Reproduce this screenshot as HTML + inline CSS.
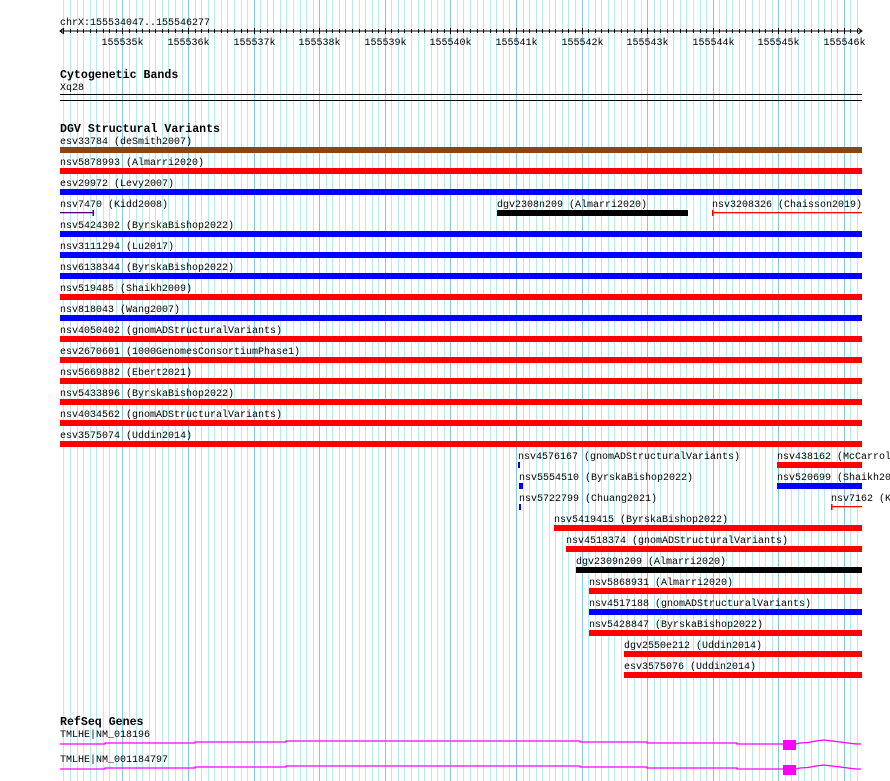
<!DOCTYPE html>
<html><head><meta charset="utf-8"><style>
html,body{margin:0;padding:0;background:#fff;width:890px;height:781px;overflow:hidden}
svg text{font-family:"Liberation Mono",monospace;font-size:10px;fill:#000}
svg text.b{font-weight:bold;font-size:11.6px}
</style></head><body>
<svg id="s" width="890" height="781" xmlns="http://www.w3.org/2000/svg">
<g id="grid"></g>
<text x="60" y="25">chrX:155534047..155546277</text>
<line x1="60" y1="31" x2="862" y2="31" stroke="#000"/>
<path d="M64,28 L60,31 L64,34 M858,28 L862,31 L858,34" stroke="#000" fill="none"/>
<g id="ticks"></g>
<text class="b" x="60" y="78">Cytogenetic Bands</text>
<text x="60" y="90">Xq28</text>
<line x1="60" y1="94.5" x2="862" y2="94.5" stroke="#000"/>
<line x1="60" y1="100.5" x2="862" y2="100.5" stroke="#000"/>
<text class="b" x="60" y="132">DGV Structural Variants</text>
<g id="sv"></g>
<text class="b" x="60" y="725">RefSeq Genes</text>
<text x="60" y="737">TMLHE|NM_018196</text>
<text x="60" y="762">TMLHE|NM_001184797</text>
<g id="genes" fill="none" stroke="#ff00ff" stroke-width="1.3"></g>
</svg>
<script>
const NS="http://www.w3.org/2000/svg";
function el(p,t,a,txt){const e=document.createElementNS(NS,t);for(const k in a)e.setAttribute(k,a[k]);if(txt)e.textContent=txt;document.getElementById(p).appendChild(e);return e;}
const x0=60,sc=802/12230,s0=155534047;
function X(bp){return x0+(bp-s0)*sc;}
for(let bp=155534100;bp<=155546200;bp+=100){
  const x=Math.round(X(bp))+0.5, maj=bp%1000==0;
  el("grid","line",{x1:x,y1:0,x2:x,y2:781,stroke:maj?"#80c8e8":"#b4ecf0","stroke-width":1});
  el("ticks","line",{x1:x,y1:maj?28:29,x2:x,y2:maj?34:33,stroke:"#000"});
  if(maj) el("ticks","text",{x:x,y:45,"text-anchor":"middle"},(bp/1000)+"k");
}
const R="#ff0000",B="#0000ff",K="#000",BR="#8b4513";
const rows=[
 [[60,862,BR,"esv33784 (deSmith2007)"]],
 [[60,862,R,"nsv5878993 (Almarri2020)"]],
 [[60,862,B,"esv29972 (Levy2007)"]],
 [[60,94,"#4b0082","nsv7470 (Kidd2008)","thin"],[497,688,K,"dgv2308n209 (Almarri2020)"],[712,862,R,"nsv3208326 (Chaisson2019)","thinL"]],
 [[60,862,B,"nsv5424302 (ByrskaBishop2022)"]],
 [[60,862,B,"nsv3111294 (Lu2017)"]],
 [[60,862,B,"nsv6138344 (ByrskaBishop2022)"]],
 [[60,862,R,"nsv519485 (Shaikh2009)"]],
 [[60,862,B,"nsv818043 (Wang2007)"]],
 [[60,862,R,"nsv4050402 (gnomADStructuralVariants)"]],
 [[60,862,R,"esv2670601 (1000GenomesConsortiumPhase1)"]],
 [[60,862,R,"nsv5669882 (Ebert2021)"]],
 [[60,862,R,"nsv5433896 (ByrskaBishop2022)"]],
 [[60,862,R,"nsv4034562 (gnomADStructuralVariants)"]],
 [[60,862,R,"esv3575074 (Uddin2014)"]],
 [[518,520,B,"nsv4576167 (gnomADStructuralVariants)"],[777,862,R,"nsv438162 (McCarrol"]],
 [[519,523,B,"nsv5554510 (ByrskaBishop2022)"],[777,862,B,"nsv520699 (Shaikh20"]],
 [[519,521,B,"nsv5722799 (Chuang2021)"],[831,862,R,"nsv7162 (K","thinL"]],
 [[554,862,R,"nsv5419415 (ByrskaBishop2022)"]],
 [[566,862,R,"nsv4518374 (gnomADStructuralVariants)"]],
 [[576,862,K,"dgv2309n209 (Almarri2020)"]],
 [[589,862,R,"nsv5868931 (Almarri2020)"]],
 [[589,862,B,"nsv4517188 (gnomADStructuralVariants)"]],
 [[589,862,R,"nsv5428847 (ByrskaBishop2022)"]],
 [[624,862,R,"dgv2550e212 (Uddin2014)"]],
 [[624,862,R,"esv3575076 (Uddin2014)"]],
];
rows.forEach((r,i)=>{
  const ly=144+21*i, by=147+21*i;
  r.forEach(([a,b,c,t,m])=>{
    el("sv","text",{x:a,y:ly},t);
    if(m=="thin"){el("sv","rect",{x:a,y:by+2,width:b-a,height:1.3,fill:c});el("sv","rect",{x:b-1.5,y:by,width:1.5,height:6,fill:c});}
    else if(m=="thinL"){el("sv","rect",{x:a,y:by+2,width:b-a,height:1.3,fill:c});el("sv","rect",{x:a,y:by,width:1.5,height:6,fill:c});}
    else el("sv","rect",{x:a,y:by,width:b-a,height:6,fill:c});
  });
});
[0,25].forEach(o=>{
  const y=v=>v+o;
  el("genes","path",{d:`M60,${y(744)} H105 V${y(743)} H195 V${y(742)} H286 V${y(741)} H580 V${y(742)} H647 V${y(743)} H737 V${y(744)} H783 M796,${y(744)} L800,${y(743)} L808,${y(742.5)} L816,${y(741)} L824,${y(740)} L832,${y(741)} L840,${y(742)} L848,${y(743)} L856,${y(744)} L861,${y(744)}`});
  el("genes","rect",{x:783,y:y(740),width:13,height:10,fill:"#ff00ff",stroke:"none"});
});
</script>
</body></html>
